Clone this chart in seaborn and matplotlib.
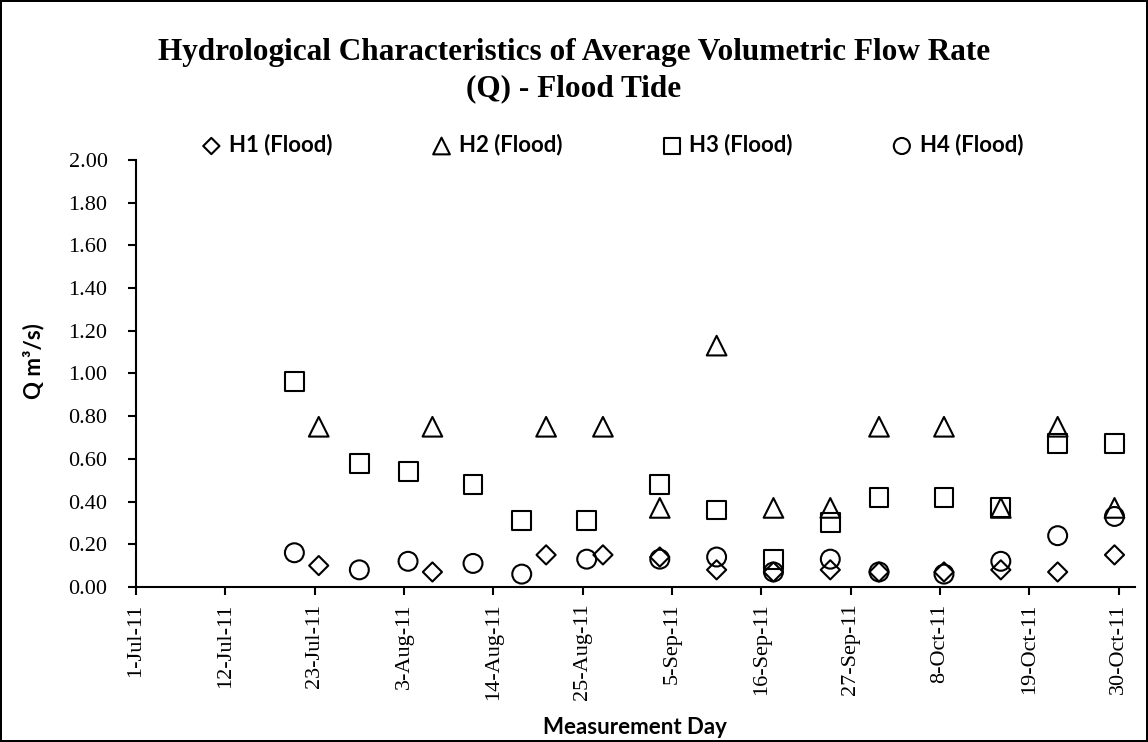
import pandas as pd
import matplotlib
matplotlib.use("Agg")
import matplotlib.pyplot as plt
import seaborn as sns

# measurement days and flow rates (m3/s) per station
h1_dates = ["2011-07-23", "2011-08-06", "2011-08-20", "2011-08-27", "2011-09-03", "2011-09-10",
            "2011-09-17", "2011-09-24", "2011-09-30", "2011-10-08", "2011-10-15", "2011-10-22", "2011-10-29"]
h1_q = [0.10, 0.07, 0.15, 0.15, 0.14, 0.08, 0.07, 0.08, 0.07, 0.07, 0.08, 0.07, 0.15]

h2_dates = h1_dates
h2_q = [0.75, 0.75, 0.75, 0.75, 0.37, 1.13, 0.37, 0.37, 0.75, 0.75, 0.37, 0.75, 0.37]

h3_dates = ["2011-07-20", "2011-07-28", "2011-08-03", "2011-08-11", "2011-08-17", "2011-08-25",
            "2011-09-03", "2011-09-10", "2011-09-17", "2011-09-24", "2011-09-30", "2011-10-08",
            "2011-10-15", "2011-10-22", "2011-10-29"]
h3_q = [0.96, 0.58, 0.54, 0.48, 0.31, 0.31, 0.48, 0.36, 0.13, 0.30, 0.42, 0.42, 0.37, 0.67, 0.67]

h4_dates = h3_dates
h4_q = [0.16, 0.08, 0.12, 0.11, 0.06, 0.13, 0.13, 0.14, 0.07, 0.13, 0.07, 0.06, 0.12, 0.24, 0.33]

series_names = ["H1 (Flood)", "H2 (Flood)", "H3 (Flood)", "H4 (Flood)"]
tick_dates = pd.date_range("2011-07-01", periods=12, freq="11D")

sns.set_theme(style="white")
plt.rcParams["font.family"] = ["Liberation Serif", "DejaVu Sans"]
plt.rcParams["text.color"] = "black"
plt.rcParams["axes.labelcolor"] = "black"
plt.rcParams["xtick.color"] = "black"
plt.rcParams["ytick.color"] = "black"

fig = plt.figure(figsize=(11.48, 7.42), dpi=100, edgecolor="black", linewidth=1.5)
ax = fig.add_axes([0.1185, 0.209, 0.870, 0.5756])

styles = [("D", 95), ("^", 200), ("s", 185), ("o", 185)]
all_dates = [h1_dates, h2_dates, h3_dates, h4_dates]
all_q = [h1_q, h2_q, h3_q, h4_q]

for name, dates, q, (mk, sz) in zip(series_names, all_dates, all_q, styles):
    d = pd.DataFrame({"day": pd.to_datetime(dates) + pd.Timedelta(hours=12), "Q": q})
    sns.scatterplot(data=d, x="day", y="Q", marker=mk, s=sz, facecolor="none",
                    edgecolor="black", linewidth=1.5, ax=ax, label=name)

ax.set_xlim(pd.Timestamp("2011-07-01"), pd.Timestamp("2011-11-01"))
ax.set_ylim(0, 2.0)
ax.set_yticks([i * 0.2 for i in range(11)])
ax.yaxis.set_major_formatter(plt.FormatStrFormatter("%.2f"))
ax.set_xticks(tick_dates)
ax.set_xticklabels([f"{t.day}-{t.strftime('%b-%y')}" for t in tick_dates], rotation=90)

for side in ["top", "right"]:
    ax.spines[side].set_visible(False)
for side in ["left", "bottom"]:
    ax.spines[side].set_color("black")
    ax.spines[side].set_linewidth(1.5)
ax.tick_params(axis="both", which="major", direction="out", length=6, width=1.5,
               color="black", labelsize=16, labelcolor="black", left=True, bottom=True)
ax.tick_params(axis="y", pad=14.5)
ax.tick_params(axis="x", pad=6)
ax.grid(False)

ax.set_xlabel("Measurement Day", fontsize=16, fontweight="bold", family="Lato")
ax.set_ylabel("Q m³/s)", fontsize=16, fontweight="bold", family="Lato")
ax.xaxis.set_label_coords(0.5, -0.305)
ax.yaxis.set_label_coords(-0.092, 0.529)

fig.suptitle("Hydrological Characteristics of Average Volumetric Flow Rate\n(Q) - Flood Tide",
             x=0.5, y=0.949, fontsize=22.5, fontweight="bold", family="Liberation Serif",
             linespacing=1.34)

leg = ax.legend(loc="center left", bbox_to_anchor=(0.157, 0.8046), bbox_transform=fig.transFigure,
                ncol=4, frameon=False, markerscale=0.85, handlelength=1.0, handletextpad=0.3,
                columnspacing=4.4, prop={"family": "Lato", "weight": "bold", "size": 16})

fig.savefig("out.png", dpi=100)
